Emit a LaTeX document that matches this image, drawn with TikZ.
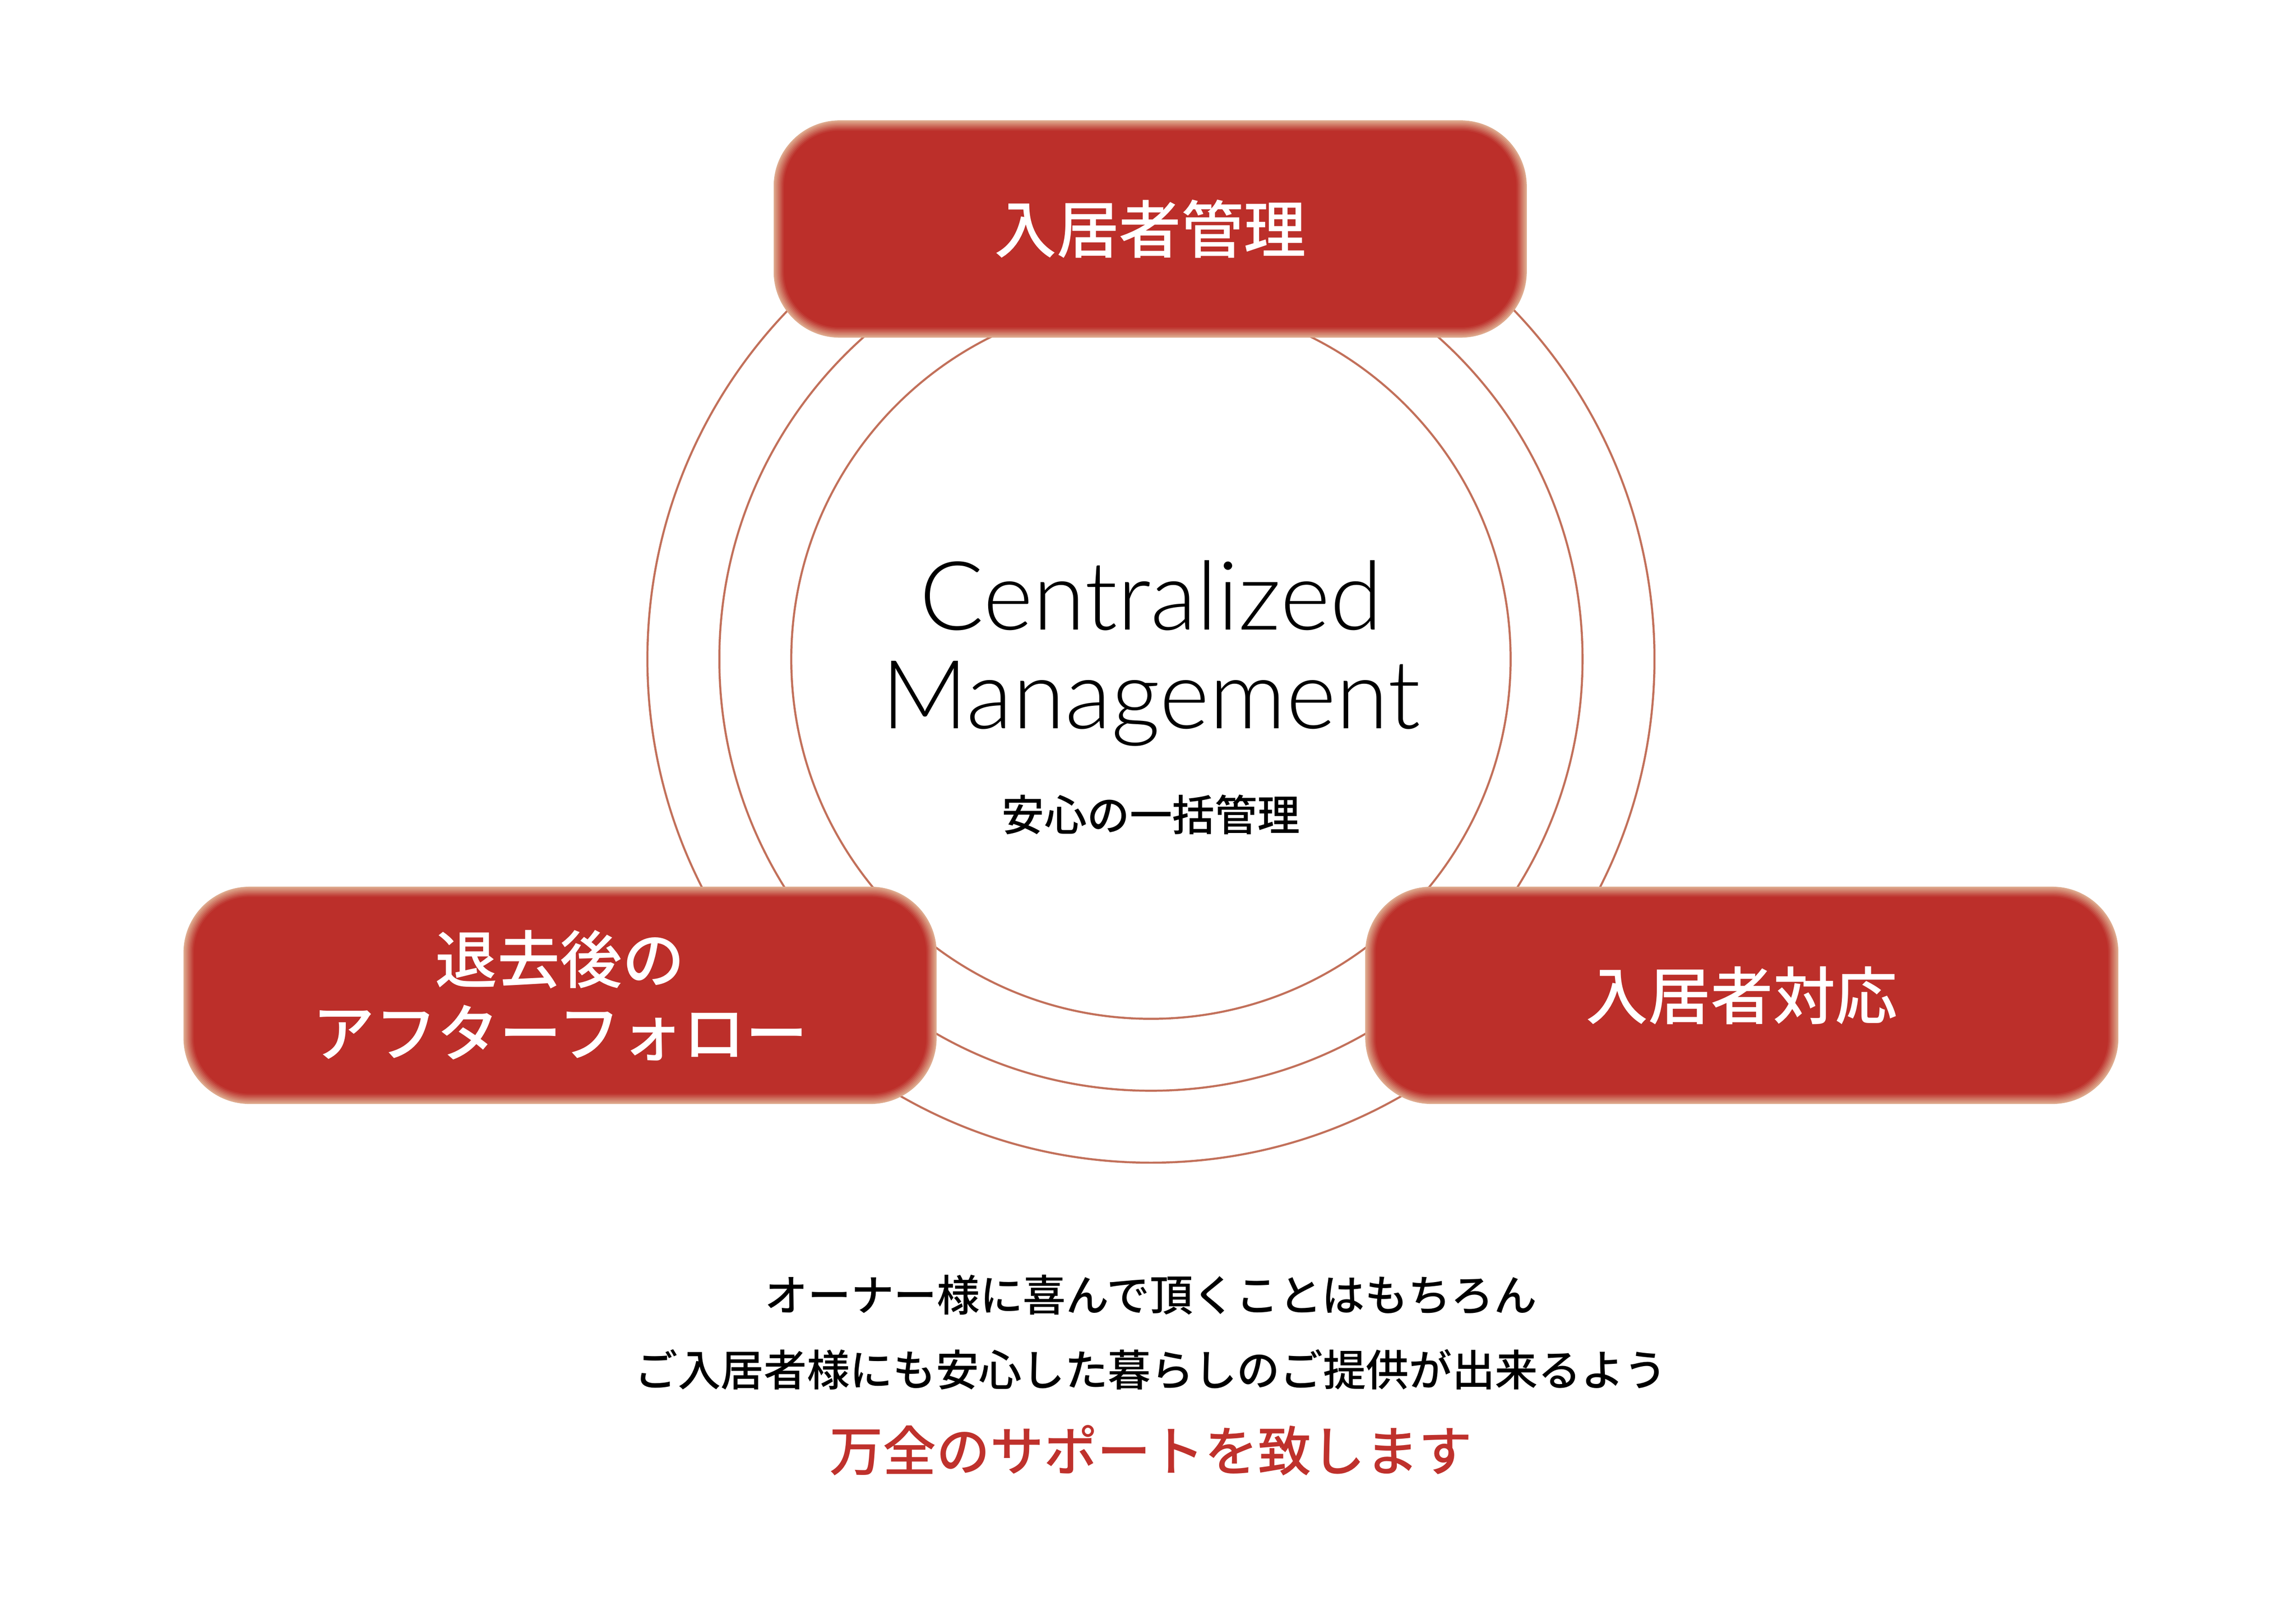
\documentclass[tikz,border=0pt]{standalone}
\usepackage{fontspec}
\newfontfamily\jp{Noto Sans CJK JP Medium}
\newfontfamily\jpr{Noto Sans CJK JP}
\newfontfamily\en{Lato Light}
\definecolor{boxred}{HTML}{BC2F2A}
\definecolor{glowtan}{HTML}{DDA88C}
\definecolor{ringc}{HTML}{C2705A}
\definecolor{redtext}{HTML}{BF312C}
\tikzset{
  ring/.style={circle, draw=ringc, line width=1.4pt, inner sep=0pt},
  boxlayer/.style={rectangle, inner sep=0pt},
  boxlabel/.style={text=white, align=center, inner sep=0pt,
    font=\jp\fontsize{42.5}{50}\selectfont},
  bodytext/.style={font=\jp\fontsize{29.3}{33}\selectfont, text=black, inner sep=0pt}
}
\newcommand{\glowbox}[2]{%
  \foreach \k in {0,1,...,7}{%
    \pgfmathsetmacro{\mix}{min(100,\k*15)}%
    \node[boxlayer, fill=boxred!\mix!glowtan,
      minimum width={513pt-2*\k pt}, minimum height={148pt-2*\k pt},
      rounded corners={45pt-\k pt}] at (#1) {};
  }%
}
\begin{document}
\begin{tikzpicture}[x=1pt,y=-1pt]
\useasboundingbox (0,0) rectangle (1564,1100);
\fill[white] (0,0) rectangle (1564,1100);
% rings
\node[ring, minimum size=686pt] (outer) at (784,449) {};
\node[ring, minimum size=588pt] (middle) at (784,449) {};
\node[ring, minimum size=490pt] (inner) at (784,449) {};
% boxes
\coordinate (ctop) at (783.5,156);
\coordinate (cleft) at (381.5,678);
\coordinate (cright) at (1186.5,678);
\glowbox{ctop}{}
\glowbox{cleft}{}
\glowbox{cright}{}
\node[boxlabel] (top) at (ctop) {入居者管理};
\node[boxlabel] (left) at (cleft) {退去後の\\アフターフォロー};
\node[boxlabel] (right) at (cright) {入居者対応};
% centre text
\node[font=\en\fontsize{65}{67}\selectfont, align=center, inner sep=0pt] (title) at (784,445) {Centralized\\Management};
\node[font=\jp\fontsize{29}{34}\selectfont, inner sep=0pt] (sub) at (784,555) {安心の一括管理};
% bottom text
\node[bodytext] (l1) at (784,882) {オーナー様に喜んで頂くことはもちろん};
\node[bodytext] (l2) at (784,933) {ご入居者様にも安心した暮らしのご提供が出来るよう};
\node[font=\jp\fontsize{36.5}{42}\selectfont, text=redtext, inner sep=0pt] (l3) at (784,988) {万全のサポートを致します};
\end{tikzpicture}
\end{document}
